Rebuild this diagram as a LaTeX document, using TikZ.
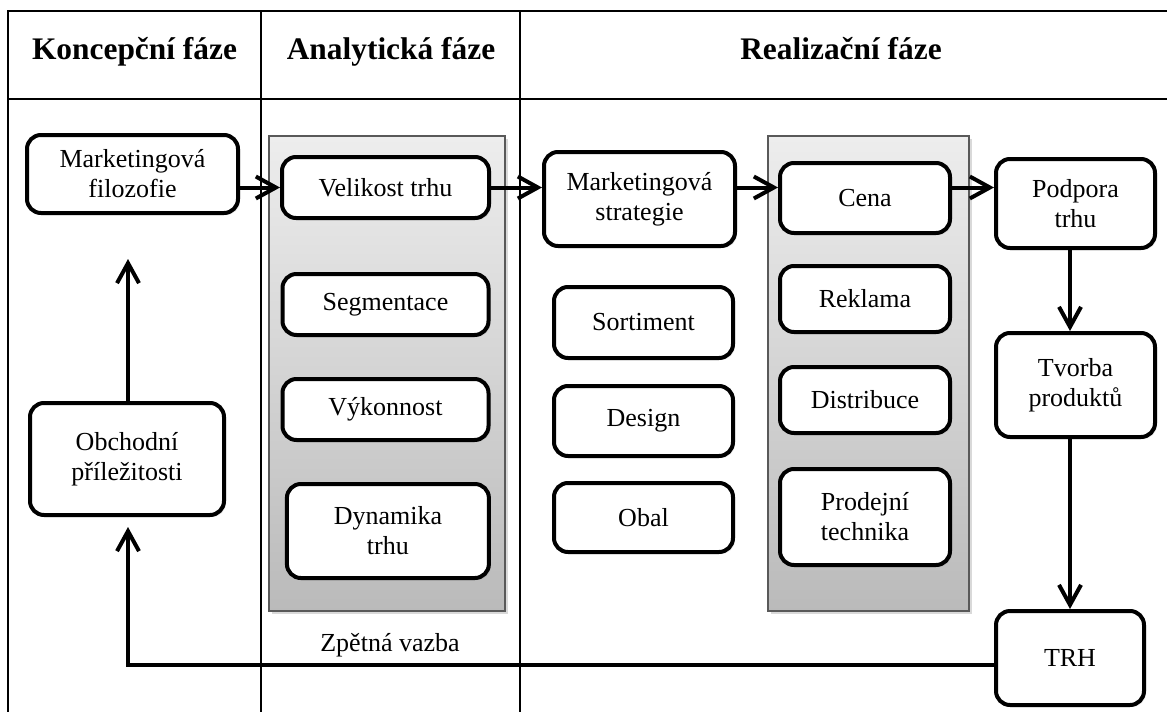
\documentclass[tikz,border=0pt]{standalone}
\usepackage{fontspec}
\setmainfont{Liberation Serif}
\usetikzlibrary{arrows.meta, shadows}

\begin{document}
\begin{tikzpicture}[x=0.5pt, y=-0.5pt,
    every node/.style={inner sep=0pt, align=center, font=\fontsize{13}{15}\selectfont},
    box/.style={rounded corners=7pt, draw, line width=2pt, fill=white,
        drop shadow={opacity=0.2, shadow xshift=1pt, shadow yshift=-1pt}},
    head/.style={font=\bfseries\fontsize{15.7}{18}\selectfont, anchor=base},
    panel/.style={draw=black!65, line width=0.6pt, top color=black!7, bottom color=black!27,
        drop shadow={opacity=0.3, shadow xshift=1.5pt, shadow yshift=-1.5pt}},
    arr/.style={line width=2pt, -{Straight Barb[length=10pt, width=11pt, line width=2pt]}},
    grid/.style={line width=0.75pt}]
        \useasboundingbox (0,0) rectangle (1167,712);

        % table
        \draw[grid] (1167,11) -- (8,11) -- (8,712);
        \draw[grid] (8,99) -- (1167,99);
        \draw[grid] (261,11) -- (261,712);
        \draw[grid] (520,11) -- (520,712);

        \node[head] (h1) at (134.5,59) {Koncepční fáze};
        \node[head] (h2) at (391,59) {Analytická fáze};
        \node[head] (h3) at (841,59) {Realizační fáze};

        % gray panels
        \path[panel] (269,136) rectangle (505,611);
        \path[panel] (768,136) rectangle (969,611);

        % koncepcni faze
        \node[box, minimum width=105.5pt, minimum height=39pt] (filo) at (132.5,174) {Marketingová\\filozofie};
        \node[box, minimum width=97pt, minimum height=56pt] (obch) at (127,459) {Obchodní\\příležitosti};

        % analyticka faze
        \node[box, minimum width=103.5pt, minimum height=30.5pt] (vel) at (385.5,187.5) {Velikost trhu};
        \node[box, minimum width=103pt, minimum height=30.5pt] (seg) [below of = vel, node distance=58.5pt] {Segmentace};
        \node[box, minimum width=103pt, minimum height=30.5pt] (vyk) [below of = seg, node distance=52.5pt] {Výkonnost};
        \node[box, minimum width=101pt, minimum height=47pt, xshift=1.2pt] (dyn) [below of = vyk, node distance=60.75pt] {Dynamika\\trhu};

        % realizacni faze
        \node[box, minimum width=95.5pt, minimum height=47pt] (mstr) at (639.5,199) {Marketingová\\strategie};
        \node[box, minimum width=89.5pt, minimum height=35.5pt] (sort) at (643.5,322.5) {Sortiment};
        \node[box, minimum width=89.5pt, minimum height=35pt] (des) [below of = sort, node distance=49.25pt] {Design};
        \node[box, minimum width=89.5pt, minimum height=34.5pt] (obal) [below of = des, node distance=48.25pt] {Obal};

        \node[box, minimum width=85pt, minimum height=35pt] (cena) at (865,198) {Cena};
        \node[box, minimum width=85pt, minimum height=33pt] (rekl) [below of = cena, node distance=50.5pt] {Reklama};
        \node[box, minimum width=85pt, minimum height=33pt] (dist) [below of = rekl, node distance=50.5pt] {Distribuce};
        \node[box, minimum width=85pt, minimum height=48pt] (prod) [below of = dist, node distance=58.5pt] {Prodejní\\technika};

        \node[box, minimum width=79.5pt, minimum height=44.5pt] (podp) at (1075.5,203.5) {Podpora\\trhu};
        \node[box, minimum width=79.5pt, minimum height=52pt] (tvor) [below of = podp, node distance=90.75pt] {Tvorba\\produktů};
        \node[box, minimum width=74pt, minimum height=47pt] (trh) at (1070,658) {TRH};

        \node (zv) at (390,645) {Zpětná vazba};
        \coordinate (fb) at (128,665);

        % arrows
        \draw[arr] (filo.east |- vel) -- (vel.west);
        \draw[arr] (vel.east) -- (vel -| mstr.west);
        \draw[arr] (mstr.east |- vel) -- (cena.west |- vel);
        \draw[arr] (cena.east |- vel) -- (podp.west |- vel);
        \draw[arr] (podp.south -| trh) -- (tvor.north -| trh);
        \draw[arr] (tvor.south -| trh) -- (trh.north);
        \draw[arr, shorten >=22pt] (obch.north -| fb) -- (filo.south -| fb);
        \draw[arr, shorten >=5pt] (trh.west |- fb) -- (fb) -- (obch.south -| fb);
    \end{tikzpicture}
\end{document}
